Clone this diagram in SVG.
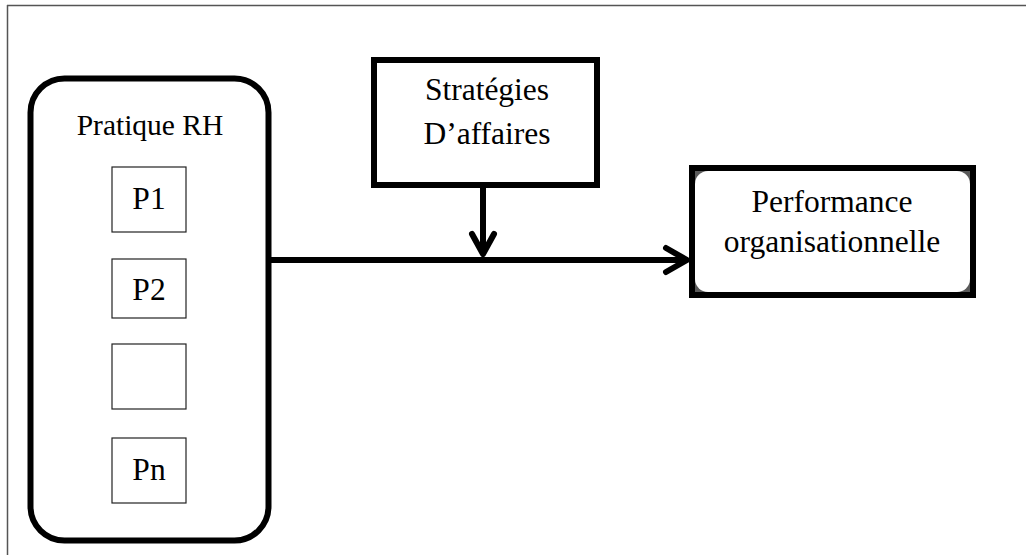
<svg xmlns="http://www.w3.org/2000/svg" width="1026" height="555" viewBox="0 0 1026 555">
  <style>
    .thick { fill: none; stroke: #000; stroke-width: 6; }
    .item { fill: #fff; stroke: #222; stroke-width: 1.2; }
    .wire { fill: none; stroke: #000; stroke-width: 6; }
    .head { fill: none; stroke: #000; stroke-width: 6; stroke-linecap: round; stroke-linejoin: round; }
  </style>

  <rect x="0" y="0" width="1026" height="555" fill="#fff"/>

  <!-- page frame -->
  <g id="frame" stroke="#555" stroke-width="1.5" fill="none">
    <line x1="7" y1="5.5" x2="1026" y2="5.5"/>
    <line x1="7.5" y1="5" x2="7.5" y2="555"/>
  </g>

  <!-- connectors -->
  <g id="connectors">
    <line class="wire" x1="271" y1="260" x2="687" y2="260"/>
    <polyline class="head" points="666,248 687,260 666,272"/>
    <line class="wire" x1="483" y1="188" x2="483" y2="254"/>
    <polyline class="head" points="472,234 483,254 494,234"/>
  </g>

  <g font-family="Liberation Serif, Times New Roman, serif" font-size="31.5" fill="#000" text-anchor="middle">
    <!-- HR practices group -->
    <g id="pratique-rh">
      <rect class="thick" x="30.5" y="78.5" width="238" height="462" rx="34" ry="34" fill="#fff"/>
      <text x="150" y="135" font-size="29.5">Pratique RH</text>
    </g>
    <g id="p1">
      <rect class="item" x="112" y="167" width="74" height="65"/>
      <text x="149" y="209">P1</text>
    </g>
    <g id="p2">
      <rect class="item" x="112" y="259" width="74" height="59"/>
      <text x="149" y="300">P2</text>
    </g>
    <g id="p-empty">
      <rect class="item" x="112" y="344" width="74" height="65"/>
    </g>
    <g id="pn">
      <rect class="item" x="112" y="438" width="74" height="65"/>
      <text x="149" y="480">Pn</text>
    </g>

    <!-- business strategies -->
    <g id="strategies">
      <rect class="thick" x="374" y="60" width="223" height="125" fill="#fff"/>
      <text x="487" y="100">Stratégies</text>
      <text x="487" y="144">D’affaires</text>
    </g>

    <!-- organisational performance -->
    <g id="performance">
      <rect x="692" y="168" width="281" height="127" fill="#5a5a5a" stroke="#000" stroke-width="6"/>
      <rect x="695" y="171" width="275" height="121" rx="13" ry="13" fill="#fff"/>
      <text x="832" y="212">Performance</text>
      <text x="832" y="252">organisationnelle</text>
    </g>
  </g>
</svg>
